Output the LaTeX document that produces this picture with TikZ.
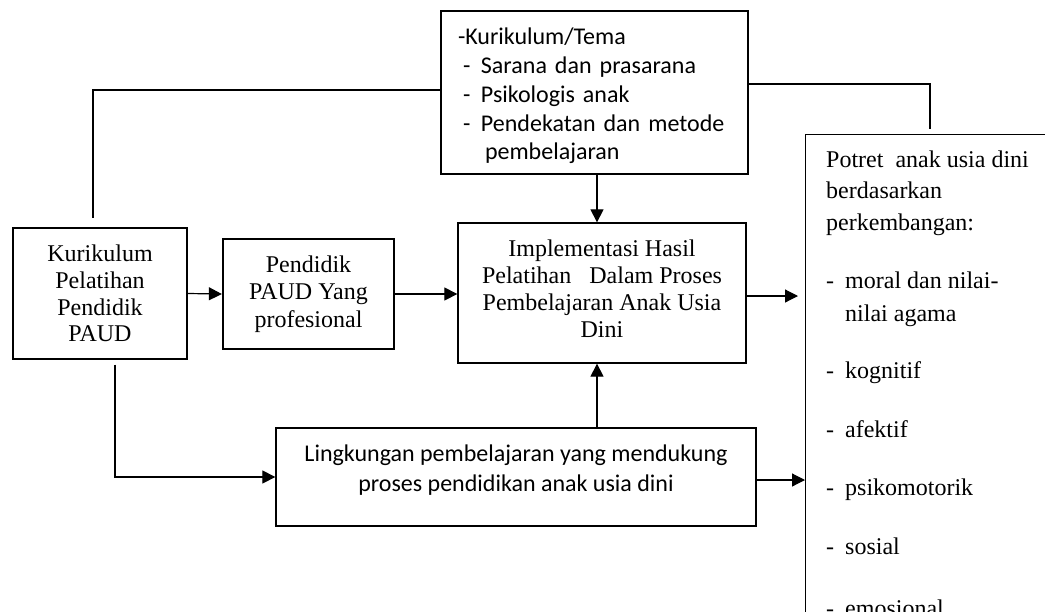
\documentclass[tikz,border=0pt]{standalone}
\usepackage{fontspec}
\setmainfont{Liberation Serif}
\newfontfamily\calibri{Carlito}
\usetikzlibrary{arrows.meta}
\tikzset{
	kotak/.style={draw, line width=1.3pt, inner sep=0pt},
	garis/.style={line width=1.2pt},
	panah/.style={line width=1.2pt, -{Triangle[length=13pt,width=13pt]}}
}
\begin{document}
\begin{tikzpicture}[x=1pt,y=-1pt]
				\useasboundingbox (0,0) rectangle (1045,611);
				\clip (0,0) rectangle (1045,611);
				\fill[white] (0,0) rectangle (1045,611);
				\node[kotak, minimum width=307pt, minimum height=163pt, text width=273pt, inner xsep=17pt, align=left, font=\calibri\fontsize{24}{28.75}\selectfont] (tema) at (594.5,92.5) {\rule{0pt}{24pt}-Kurikulum/Tema\\
					\hspace*{5pt}\makebox[18pt][l]{-}Sarana dan prasarana\\
					\hspace*{5pt}\makebox[18pt][l]{-}Psikologis anak\\
					\hspace*{5pt}\makebox[18pt][l]{-}Pendekatan dan metode\\
					\hspace*{27pt}pembelajaran};
				\node[kotak, minimum width=174pt, minimum height=131pt, align=center, font=\fontsize{24}{26.7}\selectfont] (kur) at (100,293.5) {Kurikulum\\Pelatihan\\Pendidik\\PAUD};
				\node[kotak, line width=2.3pt, minimum width=171pt, minimum height=110pt, align=center, font=\fontsize{24}{27.5}\selectfont] (ped) at (308.5,294) {Pendidik\\PAUD Yang\\profesional};
				\node[kotak, minimum width=288pt, minimum height=140pt, align=center, font=\fontsize{24}{27}\selectfont] (impl) at (602,293) {Implementasi Hasil\\Pelatihan\hspace{18pt}Dalam Proses\\Pembelajaran Anak Usia\\Dini\rule[-8pt]{0pt}{0pt}};
				\node[kotak, minimum width=480pt, minimum height=98pt, align=center, font=\calibri\fontsize{24}{30}\selectfont] (ling) at (516,477) {Lingkungan pembelajaran yang mendukung\\proses pendidikan anak usia dini\rule[-17pt]{0pt}{0pt}};
				\node[kotak, anchor=north west, minimum width=300pt, minimum height=600pt] (potret) at (805,134) {};
				\node[anchor=north west, inner sep=0pt, align=left, font=\fontsize{24}{30}\selectfont] (isi) at (826,150.6) {Potret\ \ anak usia dini\\[1pt]
					berdasarkan\\[2pt]
					perkembangan:\\[28pt]
					\makebox[19pt][l]{-}moral dan nilai-\\[3pt]
					\hspace*{19pt}nilai agama\\[27pt]
					\makebox[19pt][l]{-}kognitif\\[29pt]
					\makebox[19pt][l]{-}afektif\\[28pt]
					\makebox[19pt][l]{-}psikomotorik\\[29pt]
					\makebox[19pt][l]{-}sosial\\[32pt]
					\makebox[19pt][l]{-}emosional};
				\coordinate (ujungkiri) at (93,218);
				\coordinate (ujungkanan) at (930,129);
				\coordinate (atas) at ([xshift=-5pt]impl.north);
				\coordinate (bawah) at ([xshift=-5pt]impl.south);
				\coordinate (kanan) at ([yshift=-3pt]impl.east);
				\coordinate (kanan2) at ([yshift=-3pt]ling.east);
				\draw[garis] ([yshift=2.5pt]tema.west) -| (ujungkiri);
				\draw[garis] ([yshift=8.5pt]tema.east) -| (ujungkanan);
				\draw[panah] (atas |- tema.south) -- (atas);
				\draw[panah] (kur.east) -- (ped.west);
				\draw[panah] (ped.east) -- (ped.east -| impl.west);
				\draw[panah, shorten >=7pt] (kanan) -- (kanan -| potret.west);
				\draw[panah] (bawah |- ling.north) -- (bawah);
				\draw[panah] ([xshift=15pt,yshift=-5pt]kur.south) |- (ling.west);
				\draw[panah] (kanan2) -- (kanan2 -| potret.west);
			\end{tikzpicture}
\end{document}
